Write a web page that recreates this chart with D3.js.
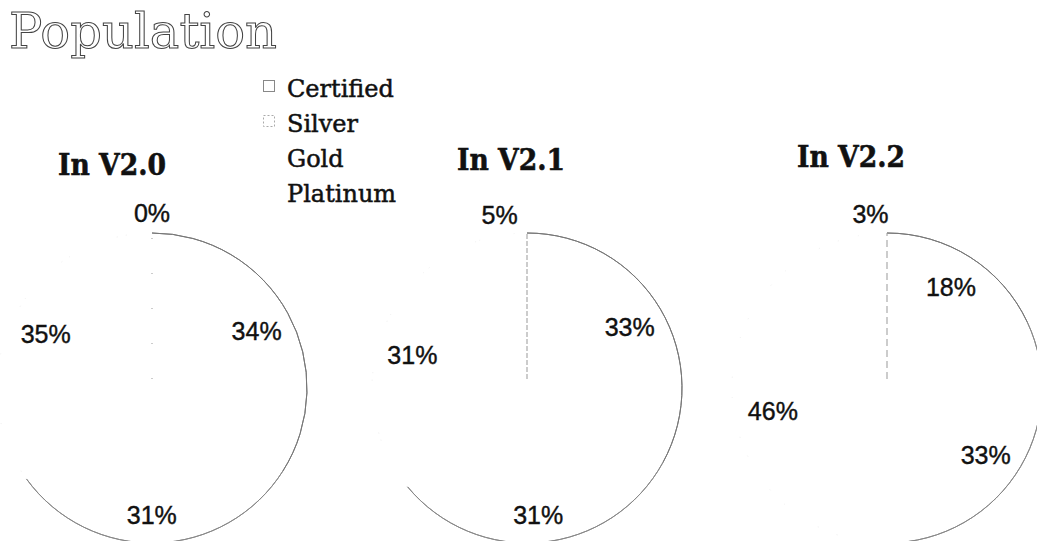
<!DOCTYPE html>
<html lang="en">
<head>
    <meta charset="UTF-8">
    <title>Population</title>
    <script src="https://cdnjs.cloudflare.com/ajax/libs/d3/7.8.5/d3.min.js"></script>
    <style>
        body { margin: 0; background: #fff; }
    </style>
</head>
<body>
    <div id="wrapper"></div>
    <script>
        // data
        const levels = ['Certified', 'Silver', 'Gold', 'Platinum']
        const versions = ['In V2.0', 'In V2.1', 'In V2.2']
        const shareV20 = [34, 31, 35, 0]
        const shareV21 = [33, 31, 31, 5]
        const shareV22 = [18, 33, 46, 3]
        const shares = [shareV20, shareV21, shareV22]

        const width = 1037
        const height = 541
        const radius = 155
        const pieY = 388

        // layout (pie centres and title anchors are not evenly spaced in the original)
        const centerX = d3.scaleOrdinal().domain(versions).range([152, 527, 887])
        const titleX = d3.scaleOrdinal().domain(versions).range([58, 457, 797])
        const titleY = d3.scaleOrdinal().domain(versions).range([175, 170, 167])
        const radialDash = d3.scaleOrdinal().domain(versions).range(['1,34', '5,2', '7,4'])
        // "best fit" label placement pushed a few labels off their centroid
        const labelNudge = {
            'In V2.0|Silver': [-4, 8],
            'In V2.1|Silver': [0, 8],
            'In V2.2|Gold': [5, 16]
        }

        // the scan left only the outline of the first two slices visible
        const strokeColor = d3.scaleOrdinal().domain(levels).range(['#777', '#888', '#f0f0f0', '#f4f4f4'])
        const strokeDash = d3.scaleOrdinal().domain(levels).range(['none', 'none', '1,60', '1,60'])

        const svg = d3.select('#wrapper')
            .append('svg')
                .attr('width', width)
                .attr('height', height)
                .attr('viewBox', `0 0 ${width} ${height}`)

        // title, outlined slab serif
        svg.append('text')
            .attr('x', 9)
            .attr('y', 48)
            .attr('font-family', 'DejaVu Serif')
            .attr('font-size', 48)
            .attr('textLength', 268)
            .attr('lengthAdjust', 'spacingAndGlyphs')
            .attr('fill', '#fff')
            .attr('stroke', '#444')
            .attr('stroke-width', 1)
            .text('Population')

        // legend
        const legend = svg.append('g')
        const legendRow = d3.scalePoint().domain(levels).range([97, 202])
        legend.selectAll('rect')
            .data(levels.slice(0, 2))
            .join('rect')
                .attr('x', 263.5)
                .attr('y', d => legendRow(d) - 16.5)
                .attr('width', 11)
                .attr('height', 11)
                .attr('fill', '#fff')
                .attr('stroke', (d, i) => i === 0 ? '#888' : '#aaa')
                .attr('stroke-dasharray', (d, i) => i === 0 ? 'none' : '2,2')
        legend.selectAll('text')
            .data(levels)
            .join('text')
                .attr('x', 287)
                .attr('y', d => legendRow(d))
                .attr('font-family', 'DejaVu Serif')
                .attr('font-size', 24)
                .attr('fill', '#111')
                .attr('stroke', '#111')
                .attr('stroke-width', 0.5)
                .text(d => d)

        const pie = d3.pie().sort(null).value(d => d)
        const outline = d3.arc().innerRadius(radius).outerRadius(radius)
        const labelArc = d3.arc().innerRadius(radius * 0.77).outerRadius(radius * 0.77)
        const outerLabelArc = d3.arc().innerRadius(radius * 1.13).outerRadius(radius * 1.13)

        versions.forEach((version, vi) => {
            const arcs = pie(shares[vi])
            const g = svg.append('g')
                .attr('transform', `translate(${centerX(version)},${pieY})`)

            svg.append('text')
                .attr('x', titleX(version))
                .attr('y', titleY(version))
                .attr('font-family', 'DejaVu Serif')
                .attr('font-weight', 'bold')
                .attr('font-size', 30)
                .attr('textLength', 108)
                .attr('lengthAdjust', 'spacingAndGlyphs')
                .attr('fill', '#111')
                .attr('stroke', '#111')
                .attr('stroke-width', 0.6)
                .text(version)

            // slice outlines (arc edge only)
            g.selectAll('path.edge')
                .data(arcs)
                .join('path')
                    .attr('class', 'edge')
                    .attr('d', outline)
                    .attr('fill', 'none')
                    .attr('stroke', (d, i) => strokeColor(levels[i]))
                    .attr('stroke-dasharray', (d, i) => strokeDash(levels[i]))
                    .attr('stroke-width', 1)

            // radial edge where the first slice starts
            const start = d3.pointRadial(arcs[0].startAngle, radius)
            const inner = d3.pointRadial(arcs[0].startAngle, 9)
            g.append('line')
                .attr('x1', inner[0])
                .attr('y1', inner[1])
                .attr('x2', start[0])
                .attr('y2', start[1])
                .attr('stroke', '#999')
                .attr('stroke-width', 1)
                .attr('stroke-dasharray', radialDash(version))

            // percentage labels, small slices sit outside
            g.selectAll('text.pct')
                .data(arcs)
                .join('text')
                    .attr('class', 'pct')
                    .attr('transform', (d, i) => {
                        const c = d.data < 8 ? outerLabelArc.centroid(d) : labelArc.centroid(d)
                        const n = labelNudge[`${version}|${levels[i]}`] || [0, 0]
                        return `translate(${c[0] + n[0]},${c[1] + n[1]})`
                    })
                    .attr('text-anchor', 'middle')
                    .attr('dy', '0.36em')
                    .attr('font-family', 'Liberation Sans, Arial, sans-serif')
                    .attr('font-size', 25)
                    .attr('fill', '#111')
                    .attr('stroke', '#111')
                    .attr('stroke-width', 0.4)
                    .text(d => `${d.data}%`)
        })
    </script>
</body>
</html>
